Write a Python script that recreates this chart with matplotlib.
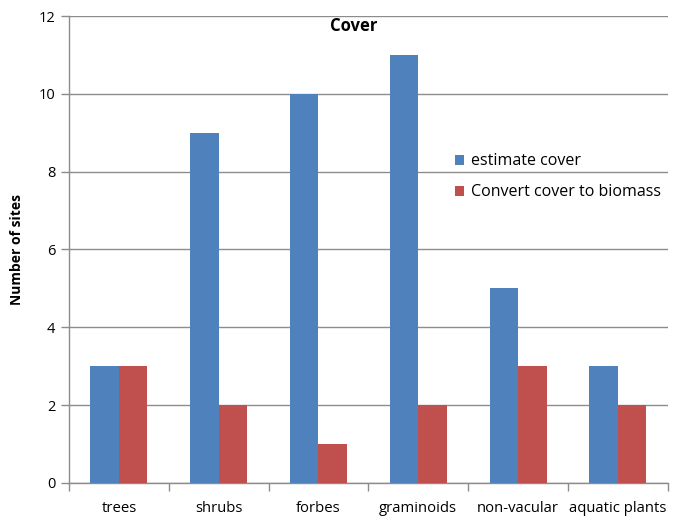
import matplotlib
matplotlib.use("Agg")
import matplotlib.pyplot as plt
import numpy as np

categories = ["trees", "shrubs", "forbes", "graminoids", "non-vacular", "aquatic plants"]
estimate_cover = [3, 9, 10, 11, 5, 3]
convert_biomass = [3, 2, 1, 2, 3, 2]
series_names = ["estimate cover", "Convert cover to biomass"]
yticks = [0, 2, 4, 6, 8, 10, 12]

plt.rcParams['font.family'] = ['Open Sans', 'DejaVu Sans']

fig = plt.figure(figsize=(6.78, 5.2), dpi=100)
ax = fig.add_axes([0.1018, 0.0712, 0.883, 0.898])

x = np.arange(len(categories))
w = 0.2857
ax.bar(x - w/2, estimate_cover, w, color="#4F81BD", label=series_names[0], zorder=3)
ax.bar(x + w/2, convert_biomass, w, color="#C0504D", label=series_names[1], zorder=3)

ax.set_xlim(-0.5, len(categories) - 0.5)
ax.set_ylim(0, 12)
ax.set_yticks(yticks)
ax.set_yticklabels([str(v) for v in yticks], fontsize=10.5)
ax.yaxis.grid(True, color="#8C8C8C", linewidth=1, zorder=0)
ax.set_axisbelow(True)

ax.set_xticks(x)
ax.set_xticklabels(categories, fontsize=10.7)
ax.tick_params(axis='x', length=0, pad=13)
ax.set_xticks(np.arange(-0.5, len(categories)), minor=True)
ax.tick_params(axis='x', which='minor', length=6, color="#8C8C8C", width=1)
ax.tick_params(axis='y', length=6, color="#8C8C8C", width=1, pad=4)

for s in ["top", "right"]:
    ax.spines[s].set_visible(False)
for s in ["left", "bottom"]:
    ax.spines[s].set_color("#8C8C8C")
    ax.spines[s].set_linewidth(1)

ax.set_ylabel("Number of sites", fontsize=10, fontweight="bold", labelpad=10)
ax.text(0.475, 0.997, "Cover", transform=ax.transAxes, ha="center", va="top",
        fontsize=12, fontweight="bold")

ax.legend(loc="upper left", bbox_to_anchor=(0.62, 0.737), frameon=False,
          fontsize=11.5, handlelength=0.6, handleheight=0.6, handletextpad=0.4,
          labelspacing=0.95)

fig.savefig("out.png", dpi=100)
